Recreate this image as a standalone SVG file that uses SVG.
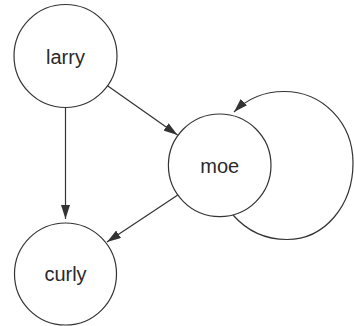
<svg xmlns="http://www.w3.org/2000/svg" width="354" height="326" viewBox="0 0 354 326">
<style>
.node circle{fill:#fff;stroke:#333;stroke-width:1.2}
.node text{font-family:"Liberation Sans",Arial,sans-serif;font-size:20px;fill:#2a2a2a;text-anchor:middle}
.edge{fill:none;stroke:#333;stroke-width:1.2;marker-end:url(#arr)}
</style>
<defs>
<marker id="arr" viewBox="0 0 14 9" refX="14" refY="4.5" markerWidth="14" markerHeight="9" markerUnits="userSpaceOnUse" orient="auto">
<path d="M0,0 L14,4.5 L0,9 z" fill="#333"/>
</marker>
</defs>
<rect width="354" height="326" fill="#fff"/>
<g id="connectors">
<line class="edge" x1="65.5" y1="107.5" x2="65.5" y2="219"/>
<line class="edge" x1="107.5" y1="85.8" x2="177.5" y2="135"/>
<line class="edge" x1="177.8" y1="194.9" x2="107" y2="242"/>
<path class="edge" d="M233,215 C248,232 265,239.5 287,239.5 C325,239.5 353,205 353,163 C353,122 322,91.5 284,91.5 C263,91.5 246,100 234,112"/>
</g>
<g id="larry" class="node">
<circle cx="65.5" cy="56" r="51.5"/>
<text x="65.5" y="64">larry</text>
</g>
<g id="moe" class="node">
<circle cx="219.7" cy="165.3" r="51.3"/>
<text x="219.7" y="173">moe</text>
</g>
<g id="curly" class="node">
<circle cx="65.5" cy="274" r="51"/>
<text x="65.5" y="281">curly</text>
</g>
</svg>
